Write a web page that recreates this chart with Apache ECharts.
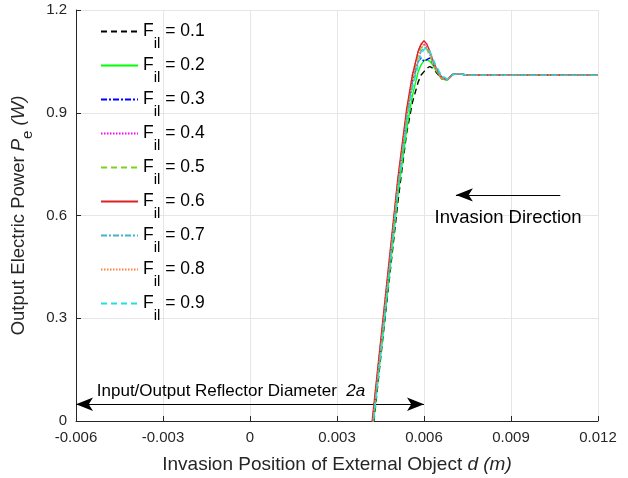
<!DOCTYPE html>
<html>
<head>
<meta charset="utf-8">
<script src="https://cdn.jsdelivr.net/npm/echarts@6/dist/echarts.min.js"></script>
<style>
  html, body { margin: 0; padding: 0; background: #fff; }
  #main { width: 628px; height: 478px; }
</style>
</head>
<body>
<div id="main"></div>
<script>
  var myChart = echarts.init(document.getElementById('main'));

  // shared positions d (m)
  var xs = [0.0042, 0.0045, 0.0048, 0.0051, 0.0054, 0.0056, 0.0058, 0.0059, 0.0060, 0.0061,
            0.0062, 0.0063, 0.0064, 0.0066, 0.0068, 0.0070, 0.0072, 0.0075, 0.0080, 0.0120];

  var filValues = ['0.1', '0.2', '0.3', '0.4', '0.5', '0.6', '0.7', '0.8', '0.9'];

  var pe01 = [-0.06, 0.18, 0.41, 0.64, 0.84, 0.93, 0.99, 1.01, 1.02, 1.03, 1.035, 1.03, 1.02, 1.0, 0.998, 1.012, 1.014, 1.01, 1.01, 1.01];
  var pe02 = [-0.05, 0.19, 0.42, 0.66, 0.85, 0.95, 1.02, 1.04, 1.052, 1.055, 1.05, 1.04, 1.025, 1.0, 0.995, 1.012, 1.014, 1.01, 1.01, 1.01];
  var pe03 = [-0.03, 0.21, 0.45, 0.69, 0.89, 0.99, 1.05, 1.06, 1.05, 1.055, 1.06, 1.045, 1.03, 1.0, 0.998, 1.012, 1.014, 1.01, 1.01, 1.01];
  var pe04 = [-0.02, 0.22, 0.46, 0.70, 0.90, 1.01, 1.08, 1.10, 1.10, 1.09, 1.07, 1.05, 1.03, 1.0, 0.995, 1.012, 1.014, 1.01, 1.01, 1.01];
  var pe05 = [-0.02, 0.22, 0.46, 0.70, 0.90, 1.00, 1.07, 1.09, 1.095, 1.085, 1.065, 1.045, 1.025, 1.0, 0.997, 1.012, 1.014, 1.01, 1.01, 1.01];
  var pe06 = [-0.01, 0.23, 0.47, 0.71, 0.91, 1.01, 1.08, 1.10, 1.11, 1.10, 1.08, 1.055, 1.035, 1.005, 0.998, 1.012, 1.014, 1.01, 1.01, 1.01];
  var pe07 = [-0.04, 0.20, 0.44, 0.68, 0.88, 0.98, 1.05, 1.08, 1.09, 1.09, 1.075, 1.055, 1.035, 1.005, 0.998, 1.012, 1.014, 1.01, 1.01, 1.01];
  var pe08 = [-0.03, 0.21, 0.45, 0.69, 0.89, 0.99, 1.06, 1.09, 1.10, 1.095, 1.075, 1.05, 1.03, 1.0, 0.997, 1.012, 1.014, 1.01, 1.01, 1.01];
  var pe09 = [-0.05, 0.19, 0.43, 0.67, 0.87, 0.97, 1.04, 1.07, 1.085, 1.09, 1.08, 1.06, 1.04, 1.01, 0.998, 1.012, 1.014, 1.01, 1.01, 1.01];
  var peAll = [pe01, pe02, pe03, pe04, pe05, pe06, pe07, pe08, pe09];

  var colors = ['#000000', '#00ff00', '#0000ff', '#ff00ff', '#80d020', '#dd2222', '#40b4cc', '#ff8040', '#20e0e0'];
  var dashes = [[6, 4], 'solid', [6, 2, 2, 2], [1.5, 1.5], [6, 4], 'solid', [6, 2, 2, 2], [1.5, 1.5], [6, 4]];

  // annotations (data coords)
  var diamArrow = [[-0.006, 0.049], [0.006, 0.049]];
  var diamText = [-0.0053, 0.088];
  var dirArrow = [[0.0107, 0.66], [0.0071, 0.66]];
  var dirText = [0.0089, 0.593];

  var font = 'Liberation Sans, Arial, Helvetica, sans-serif';

  var series = peAll.map(function (ys, i) {
    return {
      name: 'F_il = ' + filValues[i],
      type: 'line',
      showSymbol: false,
      symbol: 'none',
      color: colors[i],
      lineStyle: { width: 1.4, type: dashes[i], color: colors[i] },
      data: xs.map(function (x, k) { return [x, ys[k]]; }),
      z: 2 + i
    };
  });

  series.push({
    name: 'annot',
    type: 'line',
    data: [],
    silent: true,
    markLine: {
      silent: true,
      animation: false,
      symbolSize: [10, 17],
      lineStyle: { color: '#000', width: 1.2, type: 'solid' },
      label: { show: false },
      data: [
        [{ coord: diamArrow[0], symbol: 'arrow' }, { coord: diamArrow[1], symbol: 'arrow' }],
        [{ coord: dirArrow[0], symbol: 'none' }, { coord: dirArrow[1], symbol: 'arrow' }]
      ]
    },
    markPoint: {
      silent: true,
      animation: false,
      symbol: 'circle',
      symbolSize: 1,
      itemStyle: { color: 'rgba(0,0,0,0)' },
      data: [
        {
          coord: diamText,
          label: {
            show: true, position: 'right', distance: 0,
            formatter: '{n|Input/Output Reflector Diameter  }{i|2a}',
            rich: {
              n: { fontSize: 17, color: '#000', fontFamily: font },
              i: { fontSize: 17, color: '#000', fontFamily: font, fontStyle: 'italic' }
            }
          }
        },
        {
          coord: dirText,
          label: {
            show: true, position: 'inside',
            formatter: 'Invasion Direction',
            fontSize: 18.5, color: '#000', fontFamily: font
          }
        }
      ]
    }
  });

  var option = {
    backgroundColor: '#ffffff',
    animation: false,
    grid: { left: 76, right: 30, top: 10, bottom: 57, containLabel: false, outerBoundsMode: 'none' },
    legend: {
      orient: 'vertical',
      left: 95,
      top: 7,
      itemGap: -5,
      itemWidth: 37,
      itemHeight: 14,
      itemStyle: { color: 'rgba(0,0,0,0)', borderWidth: 0, opacity: 0 },
      data: series.slice(0, 9).map(function (s) { return s.name; }),
      formatter: function (name) {
        return '{a|F}{s|il}{a| = ' + name.split('= ')[1] + '}';
      },
      textStyle: {
        rich: {
          a: { fontSize: 17.5, color: '#000', fontFamily: font, lineHeight: 20 },
          s: { fontSize: 15, color: '#000', fontFamily: font, lineHeight: 16, padding: [24, 0, 0, 0] }
        }
      }
    },
    xAxis: {
      type: 'value',
      min: -0.006,
      max: 0.012,
      interval: 0.003,
      name: '{n|Invasion Position of External Object }{i|d (m)}',
      nameLocation: 'middle',
      nameGap: 34,
      nameTextStyle: {
        rich: {
          n: { fontSize: 19, color: '#262626', fontFamily: font },
          i: { fontSize: 19, color: '#262626', fontFamily: font, fontStyle: 'italic' }
        }
      },
      axisLine: { onZero: false, lineStyle: { color: '#262626', width: 1 } },
      axisTick: { inside: true, length: 5, lineStyle: { color: '#262626' } },
      axisLabel: {
        fontSize: 15, color: '#262626', fontFamily: font, margin: 9,
        formatter: function (v) { return Math.abs(v) < 1e-9 ? '0' : v.toFixed(3); }
      },
      splitLine: { show: true, lineStyle: { color: '#e6e6e6', width: 1 } }
    },
    yAxis: {
      type: 'value',
      min: 0,
      max: 1.2,
      interval: 0.3,
      name: '{n|Output Electric Power }{i|P}{s|e}{i| (W)}',
      nameLocation: 'middle',
      nameGap: 37,
      nameTextStyle: {
        rich: {
          n: { fontSize: 18.5, color: '#262626', fontFamily: font, lineHeight: 20 },
          i: { fontSize: 18.5, color: '#262626', fontFamily: font, fontStyle: 'italic', lineHeight: 20 },
          s: { fontSize: 15, color: '#262626', fontFamily: font, lineHeight: 15, padding: [17, 0, 0, 0] }
        }
      },
      axisLine: { show: true, onZero: false, lineStyle: { color: '#262626', width: 1 } },
      axisTick: { show: true, inside: true, length: 5, lineStyle: { color: '#262626' } },
      axisLabel: {
        fontSize: 15, color: '#262626', fontFamily: font, margin: 9,
        formatter: function (v) { return v === 0 ? '0' : v.toFixed(1); }
      },
      splitLine: { show: true, lineStyle: { color: '#e6e6e6', width: 1 } }
    },
    series: series
  };

  myChart.setOption(option);
</script>
</body>
</html>
